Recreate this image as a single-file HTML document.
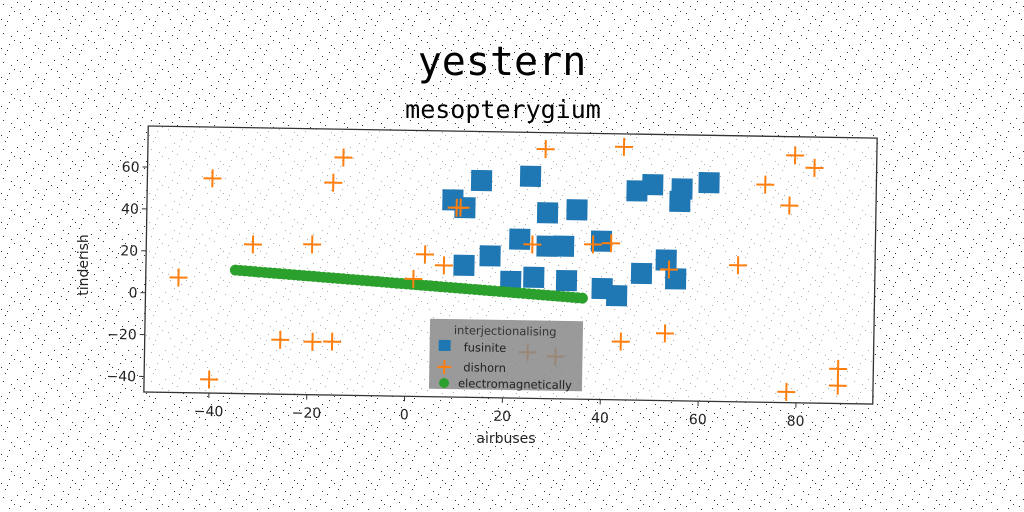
<!DOCTYPE html>
<html><head><meta charset="utf-8">
<style>
html,body{margin:0;padding:0;background:#fff;}
svg{display:block;font-family:"DejaVu Sans","Liberation Sans",sans-serif;}
</style></head>
<body>
<svg id="chart" width="1024" height="512" viewBox="0 0 1024 512" xmlns="http://www.w3.org/2000/svg">
<defs>
<pattern id="noise" width="37" height="29" patternUnits="userSpaceOnUse">
<rect x="3" y="4" width="1" height="1" fill="#000"/><rect x="17" y="2" width="1" height="1" fill="#000"/>
<rect x="29" y="9" width="1" height="1" fill="#000"/><rect x="9" y="15" width="1" height="1" fill="#000"/>
<rect x="22" y="19" width="1" height="1" fill="#000"/><rect x="33" y="23" width="1" height="1" fill="#000"/>
<rect x="5" y="25" width="1" height="1" fill="#000"/><rect x="14" y="11" width="1" height="1" fill="#000"/>
<rect x="26" y="27" width="1" height="1" fill="#000"/><rect x="35" y="16" width="1" height="1" fill="#000"/>
<rect x="11" y="7" width="1" height="1" fill="#000"/><rect x="20" y="13" width="1" height="1" fill="#000"/>
<rect x="1" y="19" width="1" height="1" fill="#000"/><rect x="31" y="1" width="1" height="1" fill="#000"/>
<rect x="24" y="6" width="1" height="1" fill="#000"/><rect x="7" y="21" width="1" height="1" fill="#000"/>
</pattern>
</defs>
<rect width="1024" height="512" fill="#fff"/>
<rect width="1024" height="512" fill="url(#noise)" opacity="0.8"/>
<text x="502" y="75" text-anchor="middle" font-family="'DejaVu Sans Mono','Liberation Mono',monospace" font-size="40" fill="#000">yestern</text>
<text x="503" y="118" text-anchor="middle" font-family="'DejaVu Sans Mono','Liberation Mono',monospace" font-size="25" fill="#000">mesopterygium</text>
<g id="rot" transform="rotate(0.95 509 265)">
<rect x="146" y="132" width="729" height="266" fill="#fff" opacity="0.6"/>
<g id="marks"></g>
<rect x="146" y="132" width="729" height="266" fill="none" stroke="#333" stroke-width="1.3"/>
<g id="axes"></g>
<g>
<rect x="431" y="320" width="153" height="70" fill="#888" opacity="0.85"/>
<text x="455" y="335" font-size="11.5" fill="#333">interjectionalising</text>
<rect x="440" y="341" width="12" height="11" fill="#1f77b4"/>
<text x="465" y="352" font-size="11.5" fill="#222">fusinite</text>
<path d="M439 368h14M446 361v14" stroke="#ff7f0e" stroke-width="2"/>
<text x="465" y="372" font-size="11.5" fill="#222">dishorn</text>
<circle cx="446" cy="384" r="5" fill="#2ca02c"/>
<text x="460" y="388" font-size="11.5" fill="#222">electromagnetically</text>
</g>
</g>
<text x="506" y="443" text-anchor="middle" font-size="14" fill="#222">airbuses</text>
<text x="88" y="265" text-anchor="middle" font-size="14" fill="#222" transform="rotate(-90 88 265)">tinderish</text>
</svg>
<script>
const xTicks = [-40, -20, 0, 20, 40, 60, 80];
const yTicks = [-40, -20, 0, 20, 40, 60];
const fusiniteX = [9.2, 11.7, 15, 25, 28.6, 34.6, 23, 28.6, 32, 39.7, 17, 11.7, 21.3, 26, 32.7, 40, 43, 48, 53, 55, 46.8, 50, 56, 55.6, 61.5];
const fusiniteY = [46.7, 43.1, 56.2, 58.6, 41.3, 43, 28.5, 25.4, 25.5, 28.2, 20.3, 15.6, 8.3, 10.4, 9.1, 5.6, 2.3, 13.1, 19.7, 10.8, 52.5, 55.6, 53.8, 47.8, 57];
const dishornX = [-46.6, -40, -40, -31.5, -25.6, -19.4, -19, -15, -15.3, -13.3, 3.7, 7.6, 1.4, 10, 10.8, 25.6, 28, 38, 41.7, 44, 44, 53, 53.6, 67.7, 73, 78, 79, 83, 88.5, 88.5, 78, 25, 30.7];
const dishornY = [7.5, 55.1, -40.9, 23.9, -21.4, 24.4, -22.1, -21.9, 54, 66.1, 20.5, 15.4, 8.7, 43, 43.1, 26.1, 71.7, 26.6, 27.3, 73.4, -19.6, -15.3, 15.2, 17.8, 56.5, 46.7, 70.7, 64.9, -30.9, -38.9, -42.3, -25.4, -27.2];
const electroX = [-35, -34, -33, -32, -31, -30, -29, -28, -27, -26, -25, -24, -23, -22, -21, -20, -19, -18, -17, -16, -15, -14, -13, -12, -11, -10, -9, -8, -7, -6, -5, -4, -3, -2, -1, 0, 1, 2, 3, 4, 5, 6, 7, 8, 9, 10, 11, 12, 13, 14, 15, 16, 17, 18, 19, 20, 21, 22, 23, 24, 25, 26, 27, 28, 29, 30, 31, 32, 33, 34, 35, 36];
const electroY = [11.5, 11.35, 11.2, 11.05, 10.9, 10.75, 10.6, 10.45, 10.3, 10.15, 10, 9.85, 9.7, 9.55, 9.4, 9.25, 9.1, 8.95, 8.8, 8.65, 8.5, 8.35, 8.2, 8.05, 7.9, 7.75, 7.6, 7.45, 7.3, 7.15, 7, 6.85, 6.7, 6.55, 6.4, 6.25, 6.1, 5.95, 5.8, 5.65, 5.5, 5.35, 5.2, 5.05, 4.9, 4.75, 4.6, 4.45, 4.3, 4.15, 4, 3.85, 3.7, 3.55, 3.4, 3.25, 3.1, 2.95, 2.8, 2.65, 2.5, 2.35, 2.2, 2.05, 1.9, 1.75, 1.6, 1.45, 1.3, 1.15, 1, 0.85];

const NS = 'http://www.w3.org/2000/svg';
const X0 = 146, X1 = 875, Y0 = 132, Y1 = 398;
const xMin = -53.3, xMax = 95.7, yMin = -47.4, yMax = 79.6;
function sx(v){ return X0 + (v - xMin) / (xMax - xMin) * (X1 - X0); }
function sy(v){ return Y1 - (v - yMin) / (yMax - yMin) * (Y1 - Y0); }
function mk(tag, attrs){ const e = document.createElementNS(NS, tag); for (const k in attrs) e.setAttribute(k, attrs[k]); return e; }
const marks = document.getElementById('marks');
const axes = document.getElementById('axes');

xTicks.forEach(t => {
  const tk = mk('line', {x1: sx(t), x2: sx(t), y1: Y1, y2: Y1 + 5, stroke: '#333'});
  
  
  axes.appendChild(tk);
  const lb = mk('text', {x: sx(t), y: Y1 + 23, 'text-anchor': 'middle', 'font-size': 14, fill: '#222'});
  lb.textContent = t < 0 ? '\u2212' + Math.abs(t) : String(t);
  
  
  axes.appendChild(lb);
});
yTicks.forEach(t => {
  const tk = mk('line', {x1: X0 - 5, x2: X0, y1: sy(t), y2: sy(t), stroke: '#333'});
  
  
  axes.appendChild(tk);
  const lb = mk('text', {x: X0 - 8, y: sy(t) + 5, 'text-anchor': 'end', 'font-size': 14, fill: '#222'});
  lb.textContent = t < 0 ? '\u2212' + Math.abs(t) : String(t);
  
  
  axes.appendChild(lb);
});
fusiniteX.forEach((v, i) => {
  const r = mk('rect', {x: sx(v) - 10.5, y: sy(fusiniteY[i]) - 10.5, width: 21, height: 21, fill: '#1f77b4'});
  
  
  marks.appendChild(r);
});
electroX.forEach((v, i) => {
  const c = mk('circle', {cx: sx(v), cy: sy(electroY[i]), r: 5.5, fill: '#2ca02c'});
  
  
  marks.appendChild(c);
});
dishornX.forEach((v, i) => {
  const x = sx(v), y = sy(dishornY[i]);
  const p = mk('path', {d: `M${x-9} ${y}h18M${x} ${y-9}v18`, stroke: '#ff7f0e', 'stroke-width': 2});
  
  
  marks.appendChild(p);
});
</script>
</body></html>
